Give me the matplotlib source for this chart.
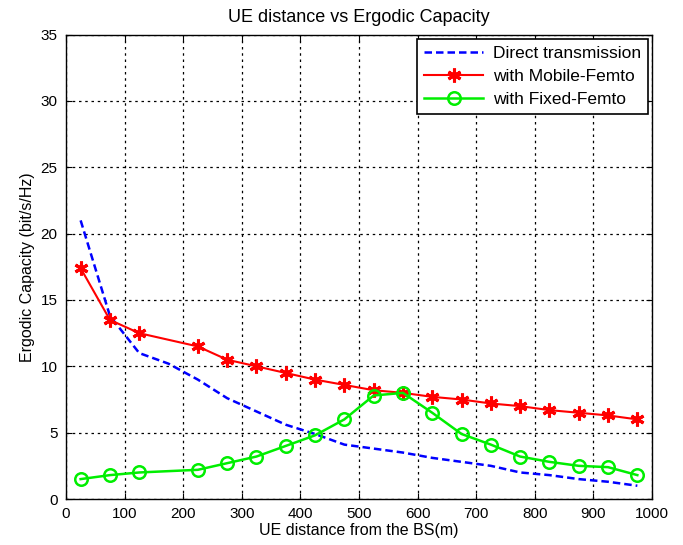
import matplotlib
matplotlib.use("Agg")
import matplotlib.pyplot as plt

plt.rcParams["font.family"] = ["Liberation Sans", "DejaVu Sans"]

# UE distance (m)
dist_direct = [25, 75, 125, 175, 225, 275, 325, 375, 425, 475,
               525, 575, 625, 675, 725, 775, 825, 875, 925, 975]
cap_direct = [21.0, 13.8, 11.0, 10.2, 9.0, 7.6, 6.6, 5.6, 4.9, 4.1,
              3.8, 3.5, 3.1, 2.8, 2.5, 2.0, 1.8, 1.5, 1.3, 1.0]

dist_femto = [25, 75, 125, 225, 275, 325, 375, 425, 475,
              525, 575, 625, 675, 725, 775, 825, 875, 925, 975]
cap_mobile = [17.4, 13.5, 12.5, 11.5, 10.5, 10.0, 9.5, 9.0, 8.6,
              8.2, 8.0, 7.7, 7.5, 7.2, 7.0, 6.7, 6.5, 6.3, 6.0]
cap_fixed = [1.5, 1.8, 2.0, 2.2, 2.7, 3.2, 4.0, 4.8, 6.0,
             7.8, 8.0, 6.5, 4.9, 4.1, 3.2, 2.8, 2.5, 2.4, 1.8]

fig = plt.figure(figsize=(6.83, 5.45), dpi=100)
ax = fig.add_axes([0.0966, 0.0844, 0.858, 0.852])

ax.plot(dist_direct, cap_direct, color="#0000ff", linestyle="--", linewidth=1.8,
        dashes=(3, 1.6), label="Direct transmission")
ax.plot(dist_femto, cap_mobile, color="#ff0000", linestyle="-", linewidth=1.5,
        marker=(6, 2, 0), markersize=10, markeredgewidth=2.2, label="with Mobile-Femto")
ax.plot(dist_femto, cap_fixed, color="#00ee00", linestyle="-", linewidth=1.8,
        marker="o", markersize=9, markerfacecolor="none", markeredgewidth=1.8,
        label="with Fixed-Femto")

ax.set_xlim(0, 1000)
ax.set_ylim(0, 35)
ax.set_xticks(range(0, 1001, 100))
ax.set_yticks(range(0, 36, 5))
ax.tick_params(direction="in", length=4, labelsize=11, top=True, right=True, pad=6)
ax.grid(True, color="black", linestyle=(0, (2, 3)), linewidth=0.9)
for spine in ax.spines.values():
    spine.set_linewidth(1.0)

ax.set_title("UE distance vs Ergodic Capacity", fontsize=13, pad=9)
ax.set_xlabel("UE distance from the BS(m)", fontsize=11.5, labelpad=1)
ax.set_ylabel("Ergodic Capacity (bit/s/Hz)", fontsize=11.5, labelpad=4)

leg = ax.legend(loc="upper right", fontsize=12.5, fancybox=False, framealpha=1,
                edgecolor="black", handlelength=3.4, handletextpad=0.55,
                borderaxespad=0.25, labelspacing=0.45, borderpad=0.4)
leg.get_frame().set_linewidth(1.2)

fig.savefig("out.png", dpi=100)
